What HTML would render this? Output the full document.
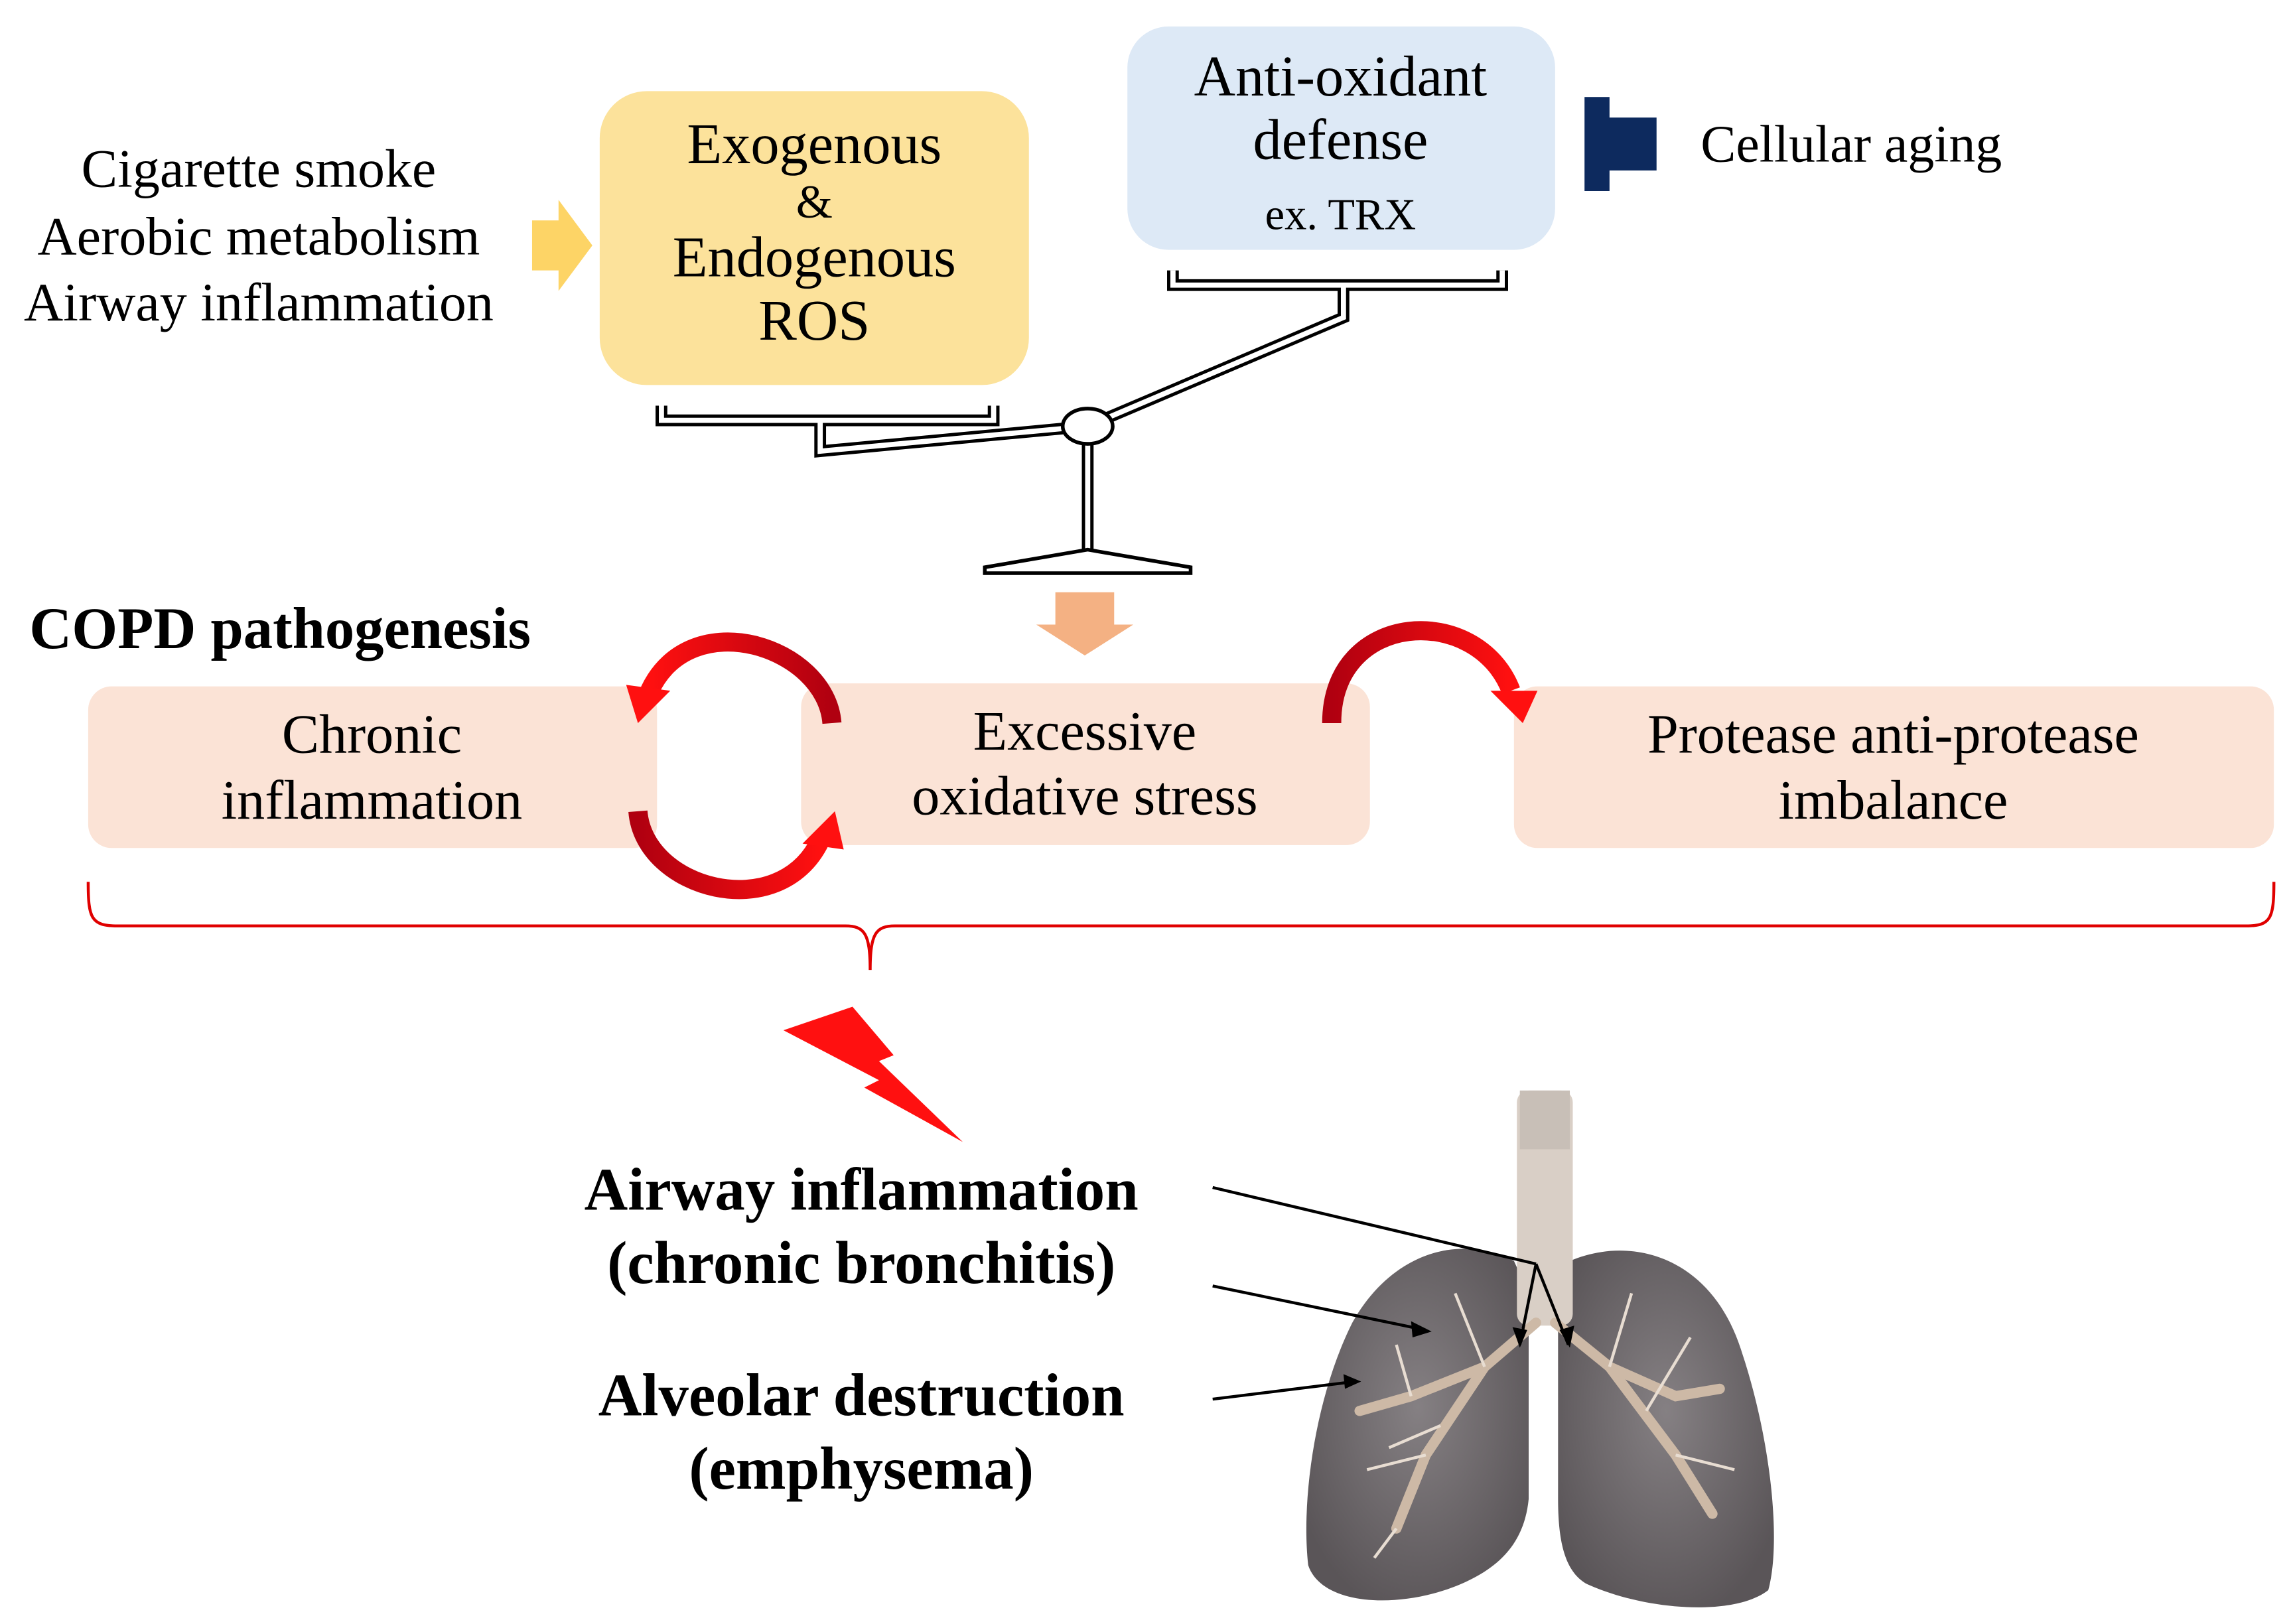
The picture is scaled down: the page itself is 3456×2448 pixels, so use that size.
<!DOCTYPE html>
<html><head><meta charset="utf-8"><style>
html,body{margin:0;padding:0;background:#fff;}
svg{display:block;}
text{font-family:"Liberation Serif",serif;fill:#000;}
</style></head><body>
<svg width="3456" height="2448" viewBox="0 0 1560 1105" xmlns="http://www.w3.org/2000/svg">
<defs>
<linearGradient id="rg" x1="0" y1="0" x2="1" y2="0">
<stop offset="0" stop-color="#b00010"/><stop offset="1" stop-color="#ff1010"/>
</linearGradient>
<linearGradient id="rg2" x1="1" y1="0" x2="0" y2="0">
<stop offset="0" stop-color="#b00010"/><stop offset="1" stop-color="#ff1010"/>
</linearGradient>
<radialGradient id="lung" cx="0.5" cy="0.45" r="0.6">
<stop offset="0" stop-color="#858083"/><stop offset="1" stop-color="#5a5558"/>
</radialGradient>
</defs>
<g font-size="37" text-anchor="middle">
<text x="176" y="127">Cigarette smoke</text>
<text x="176" y="173">Aerobic metabolism</text>
<text x="176" y="218">Airway inflammation</text>
</g>
<polygon points="362,150 380,150 380,136 403,167 380,198 380,184 362,184" fill="#fdd466"/>
<rect x="408" y="62" width="292" height="200" rx="32" fill="#fce29b"/>
<g font-size="39" text-anchor="middle">
<text x="554" y="111">Exogenous</text>
<text x="554" y="148" font-size="32">&amp;</text>
<text x="554" y="188">Endogenous</text>
<text x="554" y="231">ROS</text>
</g>
<rect x="767" y="18" width="291" height="152" rx="28" fill="#dde9f6"/>
<g font-size="39" text-anchor="middle">
<text x="912" y="65">Anti-oxidant</text>
<text x="912" y="108">defense</text>
<text x="912" y="156" font-size="30">ex. TRX</text>
</g>
<rect x="1078" y="66" width="17" height="64" fill="#0d2a5e"/>
<rect x="1094" y="80" width="33" height="36" fill="#0d2a5e"/>
<text x="1157" y="110" font-size="36">Cellular aging</text>
<g fill="none" stroke-linejoin="miter">
<g stroke="#000" stroke-width="8">
<polyline points="798,184 798,194 1022,194 1022,184"/>
<polyline points="914,194 914,216 740,290"/>
<polyline points="450,276 450,286 676,286 676,276"/>
<polyline points="558,286 558,307 740,290"/>
<line x1="740" y1="300" x2="740" y2="376"/>
</g>
<g stroke="#fff" stroke-width="3.5">
<polyline points="798,184 798,194 1022,194 1022,184"/>
<polyline points="914,194 914,216 740,290"/>
<polyline points="450,276 450,286 676,286 676,276"/>
<polyline points="558,286 558,307 740,290"/>
<line x1="740" y1="300" x2="740" y2="376"/>
</g>
</g>
<ellipse cx="740" cy="290" rx="17" ry="12" fill="#fff" stroke="#000" stroke-width="2.5"/>
<polygon points="740,374 810,386 810,390 670,390 670,386" fill="#fff" stroke="#000" stroke-width="2.5"/>
<polygon points="718,403 758,403 758,425 771,425 738,446 705,425 718,425" fill="#f4b183"/>
<text x="20" y="441" font-size="40" font-weight="bold">COPD pathogenesis</text>
<rect x="60" y="467" width="387" height="110" rx="16" fill="#fbe3d6"/>
<rect x="545" y="465" width="387" height="110" rx="16" fill="#fbe3d6"/>
<rect x="1030" y="467" width="517" height="110" rx="16" fill="#fbe3d6"/>
<g font-size="38" text-anchor="middle">
<text x="253" y="512">Chronic</text>
<text x="253" y="557">inflammation</text>
<text x="738" y="510">Excessive</text>
<text x="738" y="554">oxidative stress</text>
<text x="1288" y="512">Protease anti-protease</text>
<text x="1288" y="557">imbalance</text>
</g>
<path d="M566,492 C562,440 470,410 442,470" fill="none" stroke="url(#rg2)" stroke-width="13"/>
<polygon points="426,466 456,470 434,492" fill="#ff1010"/>
<path d="M434,552 C438,605 530,630 558,572" fill="none" stroke="url(#rg)" stroke-width="13"/>
<polygon points="546,574 574,578 568,552" fill="#ff1010"/>
<path d="M906,492 C906,415 1005,410 1028,470" fill="none" stroke="url(#rg)" stroke-width="13"/>
<polygon points="1014,470 1046,470 1036,492" fill="#ff1010"/>
<path d="M60,600 C60,625 62,630 80,630 L575,630 C588,630 592,635 592,660 C592,635 596,630 609,630 L1528,630 C1545,630 1547,625 1547,600" fill="none" stroke="#e00000" stroke-width="2"/>
<polygon points="533,701 580,685 608,718 598,722 655,777 588,740 598,735" fill="#ff1010"/>
<g font-size="41" font-weight="bold" text-anchor="middle">
<text x="586" y="823">Airway inflammation</text>
<text x="586" y="873">(chronic bronchitis)</text>
<text x="586" y="963">Alveolar destruction</text>
<text x="586" y="1013">(emphysema)</text>
</g>
<path d="M1030,858 C990,838 945,855 920,900 C895,950 885,1020 890,1065 C900,1095 960,1095 1000,1075 C1020,1065 1037,1050 1040,1020 L1040,880 Z" fill="url(#lung)"/>
<path d="M1068,858 C1110,840 1165,855 1185,920 C1205,980 1212,1050 1203,1082 C1180,1100 1120,1096 1080,1078 C1065,1070 1060,1050 1060,1020 L1060,880 Z" fill="url(#lung)"/>
<rect x="1032" y="742" width="38" height="160" rx="8" fill="#d9cfc6"/>
<rect x="1034" y="742" width="34" height="40" fill="#c8bfb7"/>
<g stroke="#cdb9a6" stroke-width="7" fill="none" stroke-linecap="round">
<path d="M1045,900 L1010,930 L970,990 L950,1040"/>
<path d="M1010,930 L960,950 L925,960"/>
<path d="M1058,900 L1095,930 L1140,990 L1165,1030"/>
<path d="M1095,930 L1140,950 L1170,945"/>
</g>
<g stroke="#e8ddd2" stroke-width="2" fill="none">
<path d="M970,990 L930,1000 M980,970 L945,985 M1010,930 L990,880 M960,950 L950,915 M1140,990 L1180,1000 M1120,960 L1150,910 M1095,930 L1110,880 M950,1040 L935,1060"/>
</g>
<g stroke="#000" stroke-width="2" fill="none">
<line x1="825" y1="808" x2="1045" y2="860"/>
<line x1="1045" y1="860" x2="1034" y2="915"/>
<line x1="1045" y1="860" x2="1067" y2="915"/>
<line x1="825" y1="875" x2="970" y2="905"/>
<line x1="825" y1="952" x2="922" y2="940"/>
</g>
<g fill="#000">
<polygon points="1034,917 1029,903 1039,905"/>
<polygon points="1068,917 1061,905 1071,902"/>
<polygon points="974,906 960,899 961,910"/>
<polygon points="926,940 914,935 915,945"/>
</g>
</svg>
</body></html>
